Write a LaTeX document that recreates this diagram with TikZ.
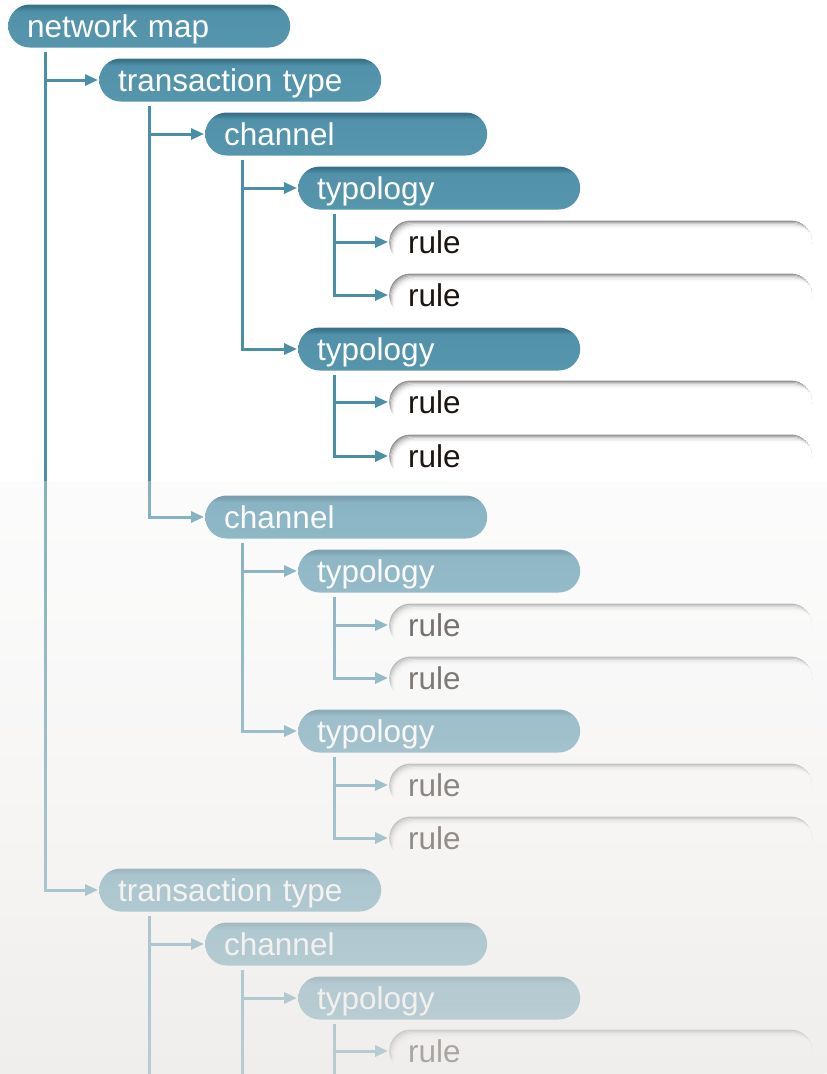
\documentclass[tikz,border=0pt]{standalone}
\usepackage{fontspec}
\setmainfont{Liberation Sans}
\usetikzlibrary{arrows.meta,calc,fadings}
\definecolor{tealM}{RGB}{81,146,170}
\definecolor{tealB}{RGB}{86,150,173}
\definecolor{tealD}{RGB}{56,114,137}
\definecolor{lineC}{RGB}{74,143,168}
\definecolor{ruleT}{RGB}{29,21,16}
\definecolor{ovtop}{RGB}{246,246,246}
\definecolor{ovbot}{RGB}{234,231,228}
\pgfdeclareverticalshading{tealshade}{100bp}{color(0bp)=(tealB); color(25bp)=(tealB); color(67bp)=(tealM); color(73bp)=(tealD); color(75bp)=(tealD); color(100bp)=(tealD)}
\tikzfading[name=fadeov, top color=transparent!67, bottom color=transparent!30]
\tikzset{
  lbl/.style={font=\fontsize{31.5}{36}\selectfont, align=left, anchor=west,
    minimum height=43pt, inner xsep=19pt, inner ysep=0pt,
    text height=27pt, text depth=5pt, rounded corners=21.5pt},
  tnode/.style={lbl, shade, shading=tealshade, text=white, text width=244pt},
  rnode/.style={lbl, fill=white, text=ruleT, text width=385pt,
    path picture={
      \foreach \s/\c in {0/42,1/30,2/20,3/12,4/6,5/2}{
        \fill[black!\c, rounded corners=21.5pt, even odd rule]
          ($(path picture bounding box.north west)+(0.9*\s,1.3*\s)$) rectangle
          ($(path picture bounding box.south east)+(0.9*\s,1.3*\s+20)$)
          ($(path picture bounding box.north west)+(0.9*\s+0.9,1.3*\s+1.3)$) rectangle
          ($(path picture bounding box.south east)+(0.9*\s+0.9,1.3*\s+21.3)$);
      }}},
  conn/.style={draw=lineC, line width=3pt, -{Triangle[length=13pt,width=11pt]}, shorten >=1pt},
  trunk/.style={draw=lineC, line width=3pt}
}
\begin{document}
\begin{tikzpicture}[x=1pt,y=-1pt]
\useasboundingbox (0,0) rectangle (827,1074);
\fill[white] (0,0) rectangle (827,1074);
% nodes
\node[tnode] (nm) at (8,26) {network map};
\node[tnode] (tt1) at (99,80) {transaction type};
\node[tnode] (ch1) at (205,134) {channel};
\node[tnode] (ty1) at (298,188) {typology};
\node[rnode] (r1) at (389,242) {rule};
\node[rnode] (r2) at (389,295) {rule};
\node[tnode] (ty2) at (298,349) {typology};
\node[rnode] (r3) at (389,402) {rule};
\node[rnode] (r4) at (389,456) {rule};
\node[tnode] (ch2) at (205,517) {channel};
\node[tnode] (ty3) at (298,571) {typology};
\node[rnode] (r5) at (389,625) {rule};
\node[rnode] (r6) at (389,678) {rule};
\node[tnode] (ty4) at (298,731) {typology};
\node[rnode] (r7) at (389,785) {rule};
\node[rnode] (r8) at (389,838) {rule};
\node[tnode] (tt2) at (99,890) {transaction type};
\node[tnode] (ch3) at (205,944) {channel};
\node[tnode] (ty5) at (298,998) {typology};
\node[rnode] (r9) at (389,1051) {rule};
% connectors
\foreach \p/\d/\cl in {nm/37/{tt1,tt2}, tt1/50/{ch1,ch2}, ch1/37/{ty1,ty2}, ty1/36/{r1,r2},
  ty2/36/{r3,r4}, ch2/37/{ty3,ty4}, ty3/36/{r5,r6}, ty4/36/{r7,r8},
  tt2/50/{ch3}, ch3/37/{ty5}, ty5/36/{r9}}{
  \foreach \c in \cl {
    \draw[conn] ($(\p.south west)+(\d,4)$) |- (\c.west);
  }
}
\coordinate (endA) at (149,1080);
\coordinate (endB) at (242,1080);
\coordinate (endC) at (334,1080);
\draw[trunk] ($(tt2.south west)+(50,4)$) -- (endA);
\draw[trunk] ($(ch3.south west)+(37,4)$) -- (endB);
\draw[trunk] ($(ty5.south west)+(36,4)$) -- (endC);
% fade overlay
\shade[top color=ovtop, bottom color=ovbot, path fading=fadeov] (0,481) rectangle (827,1074);
\end{tikzpicture}
\end{document}
